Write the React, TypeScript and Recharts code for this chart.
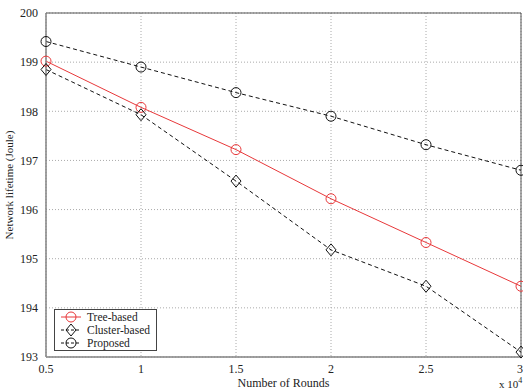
import React from "react";
import {
  LineChart,
  Line,
  XAxis,
  YAxis,
  CartesianGrid,
  ReferenceArea,
} from "recharts";

const rounds = [0.5, 1, 1.5, 2, 2.5, 3];
const treeBased = [199.02, 198.08, 197.22, 196.22, 195.33, 194.44];
const clusterBased = [198.85, 197.93, 196.58, 195.18, 194.44, 193.1];
const proposed = [199.42, 198.9, 198.38, 197.9, 197.32, 196.8];
const xTicks = [0.5, 1, 1.5, 2, 2.5, 3];
const yTicks = [193, 194, 195, 196, 197, 198, 199, 200];

const RED = "#e8383a";
const FONT = "'Liberation Serif', 'DejaVu Serif', serif";

const Diamond = (props: any) => {
  const { cx, cy } = props;
  if (cx == null || cy == null) return null;
  return (
    <path
      d={`M${cx},${cy - 6}L${cx + 5},${cy}L${cx},${cy + 6}L${cx - 5},${cy}Z`}
      fill="none"
      stroke="#111"
      strokeWidth={1}
    />
  );
};

const legendItems = [
  { name: "Tree-based", color: RED, shape: "circle" },
  { name: "Cluster-based", color: "#111", shape: "diamond" },
  { name: "Proposed", color: "#111", shape: "circle" },
];

const LegendBox = () => (
  <div
    style={{
      position: "absolute",
      left: 54,
      top: 309,
      border: "1px solid #444",
      background: "#fff",
      width: 101,
      height: 39,
      paddingTop: 1,
      fontFamily: FONT,
      fontSize: 11.5,
      color: "#222",
    }}
  >
    {legendItems.map((it) => (
      <div key={it.name} style={{ display: "flex", alignItems: "center", height: 12.7 }}>
        <svg width={26} height={12} style={{ marginLeft: 4 }}>
          <line
            x1={2}
            x2={22}
            y1={6}
            y2={6}
            stroke={it.color}
            strokeDasharray={it.color === RED ? undefined : "3 2"}
          />
          {it.shape === "circle" ? (
            <circle cx={12} cy={6} r={5} fill="none" stroke={it.color} />
          ) : (
            <path d="M12,0L17,6L12,12L7,6Z" fill="none" stroke={it.color} />
          )}
        </svg>
        <span style={{ marginLeft: 2 }}>{it.name}</span>
      </div>
    ))}
  </div>
);

export default function App() {
  const data = rounds.map((x, i) => ({
    x,
    tree: treeBased[i],
    cluster: clusterBased[i],
    proposed: proposed[i],
  }));
  return (
    <div style={{ position: "absolute", left: 0, top: 0, width: 523, height: 390, background: "#fff", overflow: "hidden" }}>
      <LineChart
        width={523}
        height={390}
        data={data}
        margin={{ top: 13, right: 2, left: 0, bottom: 0 }}
      >
        <CartesianGrid stroke="#aaa" strokeDasharray="1 2" />
        <XAxis
          dataKey="x"
          type="number"
          domain={[0.5, 3]}
          ticks={xTicks}
          height={33}
          stroke="#999"
          tickLine={false}
          tick={{ fill: "#222", fontSize: 12, fontFamily: FONT }}
          tickMargin={1}
          label={{
            value: "Number of Rounds",
            position: "insideBottom",
            offset: 3,
            fill: "#222",
            fontSize: 12,
            fontFamily: FONT,
          }}
        />
        <YAxis
          type="number"
          domain={[193, 200]}
          ticks={yTicks}
          width={46}
          stroke="#999"
          tickLine={false}
          tick={{ fill: "#222", fontSize: 12, fontFamily: FONT }}
          tickMargin={2}
          label={{
            value: "Network lifetime (Joule)",
            angle: -90,
            position: "insideLeft",
            offset: 9,
            fill: "#222",
            fontSize: 11,
            fontFamily: FONT,
            style: { textAnchor: "middle" },
          }}
        />
        <ReferenceArea
          x1={0.5}
          x2={3}
          y1={193}
          y2={200}
          fill="none"
          stroke="#555"
          strokeWidth={1}
          ifOverflow="visible"
        />
        <Line
          dataKey="tree"
          name="Tree-based"
          stroke={RED}
          strokeWidth={1}
          isAnimationActive={false}
          dot={{ r: 5, fill: "none", stroke: RED, strokeWidth: 1 }}
        />
        <Line
          dataKey="cluster"
          name="Cluster-based"
          stroke="#111"
          strokeWidth={1}
          strokeDasharray="4 3"
          isAnimationActive={false}
          dot={<Diamond />}
        />
        <Line
          dataKey="proposed"
          name="Proposed"
          stroke="#111"
          strokeWidth={1}
          strokeDasharray="4 3"
          isAnimationActive={false}
          dot={{ r: 5, fill: "none", stroke: "#111", strokeWidth: 1, strokeDasharray: "none" }}
        />
      </LineChart>
      <LegendBox />
      <div
        style={{
          position: "absolute",
          left: 499,
          top: 374,
          fontFamily: FONT,
          fontSize: 11,
          color: "#222",
          lineHeight: "14px",
        }}
      >
        x 10<sup style={{ fontSize: 8 }}>4</sup>
      </div>
    </div>
  );
}
